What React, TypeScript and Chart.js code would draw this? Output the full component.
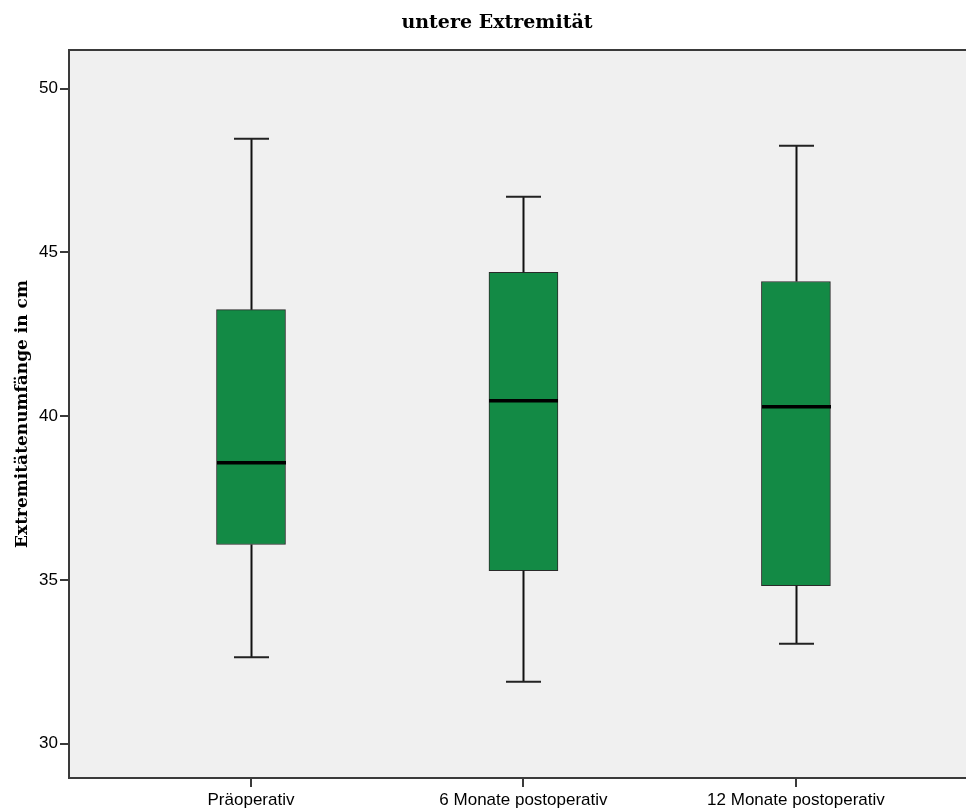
import React, { useEffect, useRef } from "react";
import { Chart, registerables } from "chart.js";

Chart.register(...registerables);

// Box plot data: circumference of the lower extremity (cm)
const categories = ["Präoperativ", "6 Monate postoperativ", "12 Monate postoperativ"];
const whiskerLow = [32.64, 31.89, 33.05];
const quartile1 = [36.08, 35.28, 34.82];
const medians = [38.58, 40.47, 40.29];
const quartile3 = [43.25, 44.39, 44.11];
const whiskerHigh = [48.47, 46.7, 48.26];
const yTicks = [30, 35, 40, 45, 50];

const BOX_COLOR = "#138a45";
const PLOT_BG = "#f0f0f0";
const AXIS_COLOR = "#3a3a3a";
const BOX_WIDTH = 69;
const CAP_WIDTH = 35;

const boxExtras = {
  id: "boxExtras",
  beforeDraw(chart: any) {
    const { ctx, chartArea } = chart;
    ctx.save();
    ctx.fillStyle = PLOT_BG;
    ctx.fillRect(chartArea.left, chartArea.top, chartArea.right - chartArea.left, chartArea.bottom - chartArea.top);
    ctx.strokeStyle = AXIS_COLOR;
    ctx.lineWidth = 2;
    ctx.beginPath();
    ctx.moveTo(chartArea.left - 1, chartArea.top);
    ctx.lineTo(chartArea.right, chartArea.top);
    ctx.stroke();
    ctx.restore();
  },
  afterDatasetsDraw(chart: any) {
    const { ctx } = chart;
    const xs = chart.scales.x;
    const ys = chart.scales.y;
    ctx.save();
    categories.forEach((_, i) => {
      const x = Math.round(xs.getPixelForValue(i)) + 0.5;
      const pLow = ys.getPixelForValue(whiskerLow[i]);
      const pQ1 = ys.getPixelForValue(quartile1[i]);
      const pMed = ys.getPixelForValue(medians[i]);
      const pQ3 = ys.getPixelForValue(quartile3[i]);
      const pHigh = ys.getPixelForValue(whiskerHigh[i]);

      // whiskers
      ctx.strokeStyle = "#111";
      ctx.lineWidth = 2;
      ctx.beginPath();
      ctx.moveTo(x, pQ3);
      ctx.lineTo(x, pHigh);
      ctx.moveTo(x, pQ1);
      ctx.lineTo(x, pLow);
      ctx.stroke();

      // caps
      ctx.strokeStyle = "#222";
      ctx.beginPath();
      ctx.moveTo(x - CAP_WIDTH / 2, pHigh);
      ctx.lineTo(x + CAP_WIDTH / 2, pHigh);
      ctx.moveTo(x - CAP_WIDTH / 2, pLow);
      ctx.lineTo(x + CAP_WIDTH / 2, pLow);
      ctx.stroke();

      // median
      ctx.strokeStyle = "#000";
      ctx.lineWidth = 3.5;
      ctx.beginPath();
      ctx.moveTo(x - BOX_WIDTH / 2, pMed);
      ctx.lineTo(x + BOX_WIDTH / 2, pMed);
      ctx.stroke();
    });
    ctx.restore();
  },
};

export default function App() {
  const canvasRef = useRef<HTMLCanvasElement | null>(null);

  useEffect(() => {
    if (!canvasRef.current) return;
    const chart = new Chart(canvasRef.current, {
      type: "bar",
      data: {
        datasets: [
          {
            data: categories.map((_, i) => ({ x: i, y: [quartile1[i], quartile3[i]] })) as any,
            backgroundColor: BOX_COLOR,
            borderColor: "#2a2a2a",
            borderWidth: 1,
            borderSkipped: false,
            barThickness: BOX_WIDTH,
            grouped: false,
          },
        ],
      },
      options: {
        responsive: false,
        animation: false,
        devicePixelRatio: 1,
        layout: { padding: { left: 0, right: 17, top: 0, bottom: 0 } },
        plugins: {
          legend: { display: false },
          tooltip: { enabled: false },
          title: {
            display: true,
            text: "untere Extremität",
            color: "#000",
            font: { family: "DejaVu Serif", size: 19, weight: "bold", lineHeight: 1.2 },
            padding: { top: 12, bottom: 15.2 },
          },
        },
        scales: {
          x: {
            type: "linear",
            offset: false,
            min: -0.668,
            max: 2.727,
            afterBuildTicks: (scale: any) => {
              scale.ticks = categories.map((_, i) => ({ value: i }));
            },
            afterFit: (scale: any) => {
              scale.height = 34;
            },
            ticks: {
              autoSkip: false,
              maxRotation: 0,
              padding: 3,
              color: "#000",
              font: { family: "Liberation Sans", size: 17 },
              callback: (v: any) => categories[v as number] ?? "",
            },
            grid: {
              offset: false,
              drawOnChartArea: false,
              drawTicks: true,
              tickLength: 9,
              color: AXIS_COLOR,
              lineWidth: 2,
            },
            border: { display: true, color: AXIS_COLOR, width: 2 },
          },
          y: {
            type: "linear",
            min: 28.95,
            max: 51.18,
            afterBuildTicks: (scale: any) => {
              scale.ticks = yTicks.map((v) => ({ value: v }));
            },
            afterFit: (scale: any) => {
              scale.width = 69;
            },
            ticks: {
              padding: 2,
              color: "#000",
              font: { family: "Liberation Sans", size: 17 },
              callback: (v: any) => String(v),
            },
            grid: {
              drawOnChartArea: false,
              drawTicks: true,
              tickLength: 9,
              color: AXIS_COLOR,
              lineWidth: 2,
            },
            border: { display: true, color: AXIS_COLOR, width: 2 },
            title: {
              display: true,
              text: "Extremitätenumfänge in cm",
              color: "#000",
              font: { family: "DejaVu Serif", size: 17, weight: "bold", lineHeight: 1.2 },
              padding: { top: 12, bottom: 0 },
            },
          },
        },
      },
      plugins: [boxExtras],
    });
    return () => chart.destroy();
  }, []);

  return (
    <div
      style={{
        position: "fixed",
        left: 0,
        top: 0,
        width: 966,
        height: 812,
        overflow: "hidden",
        background: "#fff",
      }}
    >
      <canvas ref={canvasRef} width={1011} height={812} style={{ display: "block" }} />
    </div>
  );
}
